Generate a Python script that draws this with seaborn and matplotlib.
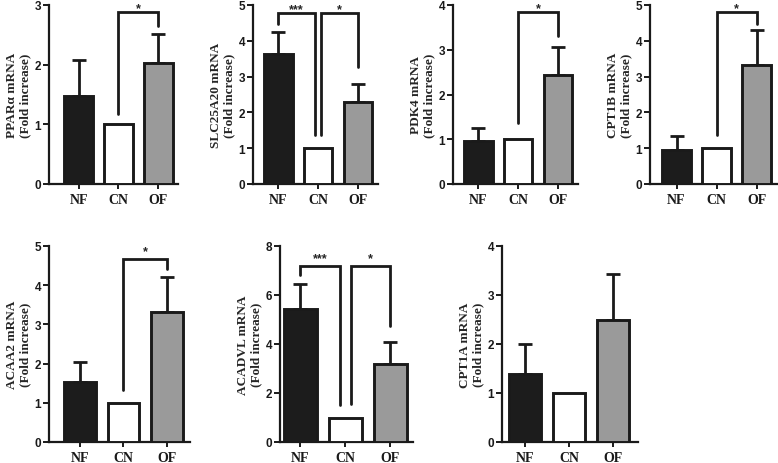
import matplotlib
matplotlib.use("Agg")
import matplotlib.pyplot as plt
import seaborn as sns
import pandas as pd
import numpy as np

# groups and bar colours
groups = ["NF", "CN", "OF"]
bar_colors = {"NF": "#1c1c1c", "CN": "#ffffff", "OF": "#9a9a9a"}

# mean fold increase and upper error for each gene
ppara_mean = [1.48, 1.00, 2.03]
ppara_err = [0.60, 0.00, 0.48]
slc25a20_mean = [3.63, 1.00, 2.30]
slc25a20_err = [0.61, 0.00, 0.49]
pdk4_mean = [0.97, 1.00, 2.43]
pdk4_err = [0.29, 0.00, 0.64]
cpt1b_mean = [0.96, 1.00, 3.33]
cpt1b_err = [0.39, 0.00, 0.98]
acaa2_mean = [1.52, 1.00, 3.32]
acaa2_err = [0.52, 0.00, 0.89]
acadvl_mean = [5.43, 1.00, 3.18]
acadvl_err = [1.03, 0.00, 0.89]
cpt1a_mean = [1.39, 1.00, 2.49]
cpt1a_err = [0.62, 0.00, 0.93]

# significance brackets: (x left, x right, left leg bottom, top, right leg bottom, label)
ppara_sig = [(1, 2, 1.17, 2.88, 2.65, "*")]
slc25a20_sig = [(0, 0.92, 4.47, 4.78, 1.37, "***"), (1.08, 2, 1.37, 4.78, 3.26, "*")]
pdk4_sig = [(1, 2, 1.37, 3.84, 3.31, "*")]
cpt1b_sig = [(1, 2, 1.36, 4.80, 4.47, "*")]
acaa2_sig = [(1, 2, 1.32, 4.66, 4.42, "*")]
acadvl_sig = [(0, 0.88, 6.83, 7.17, 1.50, "***"), (1.12, 2, 1.57, 7.17, 4.72, "*")]
cpt1a_sig = []

W, H = 778, 464
sans = "Liberation Sans"
serif = "Liberation Serif"

# layout: (gene, mean, err, sig, ymax, ystep, left px, right px, top px, bottom px, xlim, star offset pt)
panels = [
    ("PPARα", ppara_mean, ppara_err, ppara_sig, 3, 1, 49, 178, 6, 185, (-0.74, 2.49), 0.5),
    ("SLC25A20", slc25a20_mean, slc25a20_err, slc25a20_sig, 5, 1, 253, 378, 6, 185, (-0.63, 2.5), 0.5),
    ("PDK4", pdk4_mean, pdk4_err, pdk4_sig, 4, 1, 453, 578, 6, 185, (-0.63, 2.5), 0.5),
    ("CPT1B", cpt1b_mean, cpt1b_err, cpt1b_sig, 5, 1, 650, 777, 6, 185, (-0.66, 2.5), 0.5),
    ("ACAA2", acaa2_mean, acaa2_err, acaa2_sig, 5, 1, 49, 190, 247, 443, (-0.71, 2.53), 3.5),
    ("ACADVL", acadvl_mean, acadvl_err, acadvl_sig, 8, 2, 280, 413, 247, 443, (-0.45, 2.5), 3.5),
    ("CPT1A", cpt1a_mean, cpt1a_err, cpt1a_sig, 4, 1, 502, 638, 247, 443, (-0.52, 2.57), 3.5),
]

sns.set_style("ticks")
fig = plt.figure(figsize=(W / 100, H / 100), dpi=100)
fig.patch.set_facecolor("white")

ink = "#1a1a1a"
for gene, mean, err, sig, ymax, ystep, lpx, rpx, tpx, bpx, xlim, star_off in panels:
    ax = fig.add_axes([lpx / W, (H - bpx) / H, (rpx - lpx) / W, (bpx - tpx) / H])
    df = pd.DataFrame({"group": groups, "value": mean, "err": err})
    sns.barplot(data=df, x="group", y="value", hue="group", palette=bar_colors,
                order=groups, hue_order=groups, legend=False, errorbar=None,
                width=0.72, edgecolor=ink, linewidth=2.1, ax=ax, zorder=3)
    pos = np.arange(len(groups))
    has_err = df["err"] > 0
    ax.errorbar(pos[has_err], df["value"][has_err],
                yerr=[np.zeros(has_err.sum()), df["err"][has_err]],
                fmt="none", ecolor=ink, elinewidth=2.0, capsize=5,
                capthick=2.0, zorder=2)

    for x1, x2, y1, ytop, y2, label in sig:
        ax.plot([x1, x1, x2, x2], [y1, ytop, ytop, y2], color=ink,
                lw=2.0, clip_on=False, zorder=4, solid_joinstyle="miter")
        ax.annotate(label, xy=((x1 + x2) / 2, ytop), xytext=(0, star_off),
                    textcoords="offset points", ha="center", va="baseline",
                    fontsize=9, fontweight="bold", family=sans,
                    annotation_clip=False)

    ax.set_xlim(*xlim)
    ax.set_ylim(0, ymax)
    ax.set_yticks(np.arange(0, ymax + ystep / 2, ystep))
    ax.set_yticklabels([str(v) for v in range(0, ymax + 1, ystep)],
                       fontsize=8.5, fontweight="bold", family=sans)
    ax.set_xticks(pos)
    ax.set_xticklabels(groups, fontsize=10, fontweight="bold", family=serif)
    ax.set_xlabel("")
    ax.set_ylabel(f"{gene} mRNA\n(Fold increase)", fontsize=9.5,
                  fontweight="bold", family=serif, linespacing=1.1, labelpad=2.5)
    sns.despine(ax=ax)
    for s in ["left", "bottom"]:
        ax.spines[s].set_linewidth(1.6)
        ax.spines[s].set_color(ink)
    ax.tick_params(axis="y", length=4, width=1.4, pad=1.5, colors=ink)
    ax.tick_params(axis="x", length=3.5, width=1.4, pad=3, colors=ink)
    ax.set_facecolor("white")

fig.savefig("out.png", dpi=100, facecolor="white")
